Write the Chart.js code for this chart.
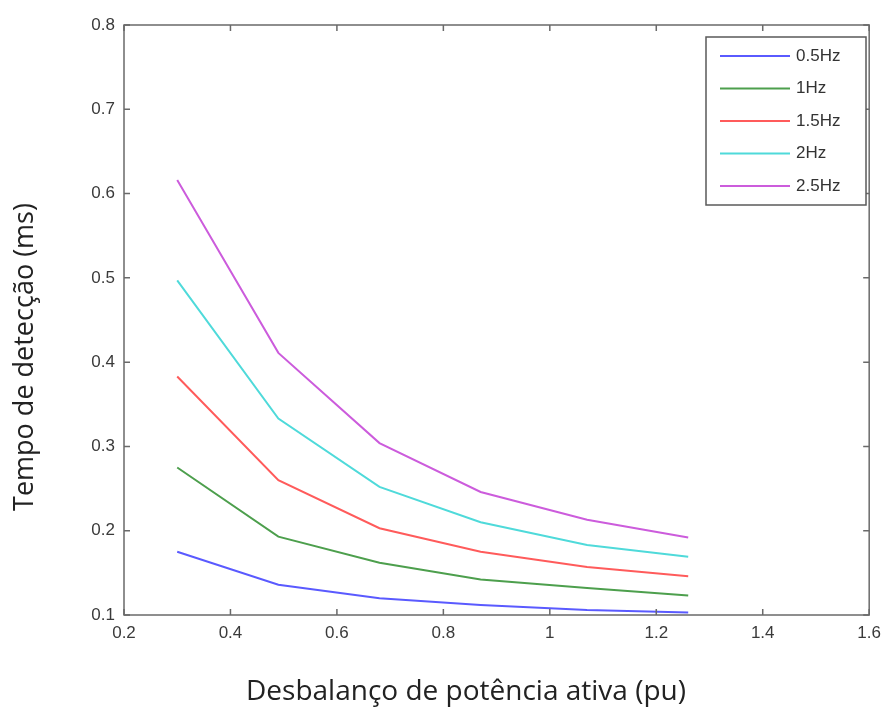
<!DOCTYPE html>
<html>
<head>
<meta charset="utf-8">
<script src="https://cdn.jsdelivr.net/npm/chart.js@4"></script>
<style>
  html, body { margin: 0; padding: 0; background: #fff; }
  #wrap { width: 889px; height: 709px; }
</style>
</head>
<body>
<div id="wrap"><canvas id="detChart" width="889" height="709"></canvas></div>
<script>
// desbalanço de potência ativa (pu)
const imbalance = [0.3, 0.49, 0.68, 0.87, 1.07, 1.26];

// tempo de detecção para cada frequência
const hz05 = [0.175, 0.136, 0.120, 0.112, 0.106, 0.103];
const hz10 = [0.275, 0.193, 0.162, 0.142, 0.132, 0.123];
const hz15 = [0.383, 0.260, 0.203, 0.175, 0.157, 0.146];
const hz20 = [0.497, 0.333, 0.252, 0.210, 0.183, 0.169];
const hz25 = [0.616, 0.411, 0.304, 0.246, 0.213, 0.192];

const seriesLabels = ["0.5Hz", "1Hz", "1.5Hz", "2Hz", "2.5Hz"];
const seriesColors = ["#5a5aff", "#4d9f4d", "#ff5b5b", "#4fdada", "#cc5cdc"];
const xTicks = [0.2, 0.4, 0.6, 0.8, 1, 1.2, 1.4, 1.6];
const yTicks = [0.1, 0.2, 0.3, 0.4, 0.5, 0.6, 0.7, 0.8];
const xTitle = "Desbalanço de potência ativa (pu)";
const yTitle = "Tempo de detecção (ms)";

const tickFont = { family: "'Liberation Sans', Arial, sans-serif", size: 17 };

function toPoints(ys) {
  return imbalance.map((x, i) => ({ x: x, y: ys[i] }));
}

// moldura estilo MATLAB com marcas internas, legenda e títulos dos eixos
const frameAndLegend = {
  id: "frameAndLegend",
  afterDraw(chart) {
    const { ctx, chartArea: a, scales } = chart;
    ctx.save();
    ctx.strokeStyle = "#6a6a6a";
    ctx.lineWidth = 1.5;
    ctx.strokeRect(a.left, a.top, a.right - a.left, a.bottom - a.top);
    ctx.beginPath();
    const len = 6;
    xTicks.forEach(v => {
      const px = scales.x.getPixelForValue(v);
      ctx.moveTo(px, a.bottom); ctx.lineTo(px, a.bottom - len);
      ctx.moveTo(px, a.top); ctx.lineTo(px, a.top + len);
    });
    yTicks.forEach(v => {
      const py = scales.y.getPixelForValue(v);
      ctx.moveTo(a.left, py); ctx.lineTo(a.left + len, py);
      ctx.moveTo(a.right, py); ctx.lineTo(a.right - len, py);
    });
    ctx.stroke();

    // legenda
    const bx = 706, by = 37, bw = 160, bh = 168;
    ctx.fillStyle = "#fff";
    ctx.fillRect(bx, by, bw, bh);
    ctx.strokeStyle = "#5a5a5a";
    ctx.lineWidth = 1.5;
    ctx.strokeRect(bx, by, bw, bh);
    ctx.font = "17px 'Liberation Sans', Arial, sans-serif";
    ctx.textBaseline = "middle";
    chart.data.datasets.forEach((ds, i) => {
      const ry = by + 19 + i * 32.5;
      ctx.strokeStyle = ds.borderColor;
      ctx.lineWidth = 2;
      ctx.beginPath();
      ctx.moveTo(bx + 14, ry);
      ctx.lineTo(bx + 84, ry);
      ctx.stroke();
      ctx.fillStyle = "#333";
      ctx.fillText(ds.label, bx + 90, ry);
    });

    // títulos dos eixos
    ctx.fillStyle = "#222";
    ctx.textAlign = "center";
    ctx.textBaseline = "middle";
    ctx.font = "28px 'Open Sans', 'DejaVu Sans', sans-serif";
    ctx.fillText(xTitle, 466, 692);
    ctx.translate(25, 357);
    ctx.rotate(-Math.PI / 2);
    ctx.font = "27px 'Open Sans', 'DejaVu Sans', sans-serif";
    ctx.fillText(yTitle, 0, 0);
    ctx.restore();
  }
};

const datasets = [hz05, hz10, hz15, hz20, hz25].map((ys, i) => ({
  label: seriesLabels[i],
  data: toPoints(ys),
  borderColor: seriesColors[i],
  backgroundColor: seriesColors[i],
  borderWidth: 2,
  pointRadius: 0,
  tension: 0,
  fill: false
}));

new Chart(document.getElementById("detChart"), {
  type: "line",
  data: { datasets: datasets },
  options: {
    responsive: false,
    animation: false,
    layout: { padding: { top: 25, right: 17, left: 0, bottom: 0 } },
    plugins: {
      legend: { display: false },
      tooltip: { enabled: false }
    },
    scales: {
      x: {
        type: "linear",
        min: 0.2,
        max: 1.6,
        afterBuildTicks: (scale) => { scale.ticks = xTicks.map(v => ({ value: v })); },
        afterFit: (scale) => { scale.height = 94; },
        grid: { display: false, drawTicks: false },
        border: { display: false },
        ticks: {
          padding: 8,
          color: "#3a3a3a",
          font: tickFont,
          callback: (v) => String(parseFloat(v.toFixed(1)))
        }
      },
      y: {
        type: "linear",
        min: 0.1,
        max: 0.8,
        afterBuildTicks: (scale) => { scale.ticks = yTicks.map(v => ({ value: v })); },
        afterFit: (scale) => { scale.width = 124; },
        grid: { display: false, drawTicks: false },
        border: { display: false },
        ticks: {
          padding: 9,
          color: "#3a3a3a",
          font: tickFont,
          callback: (v) => String(parseFloat(v.toFixed(1)))
        }
      }
    }
  },
  plugins: [frameAndLegend]
});
</script>
</body>
</html>
